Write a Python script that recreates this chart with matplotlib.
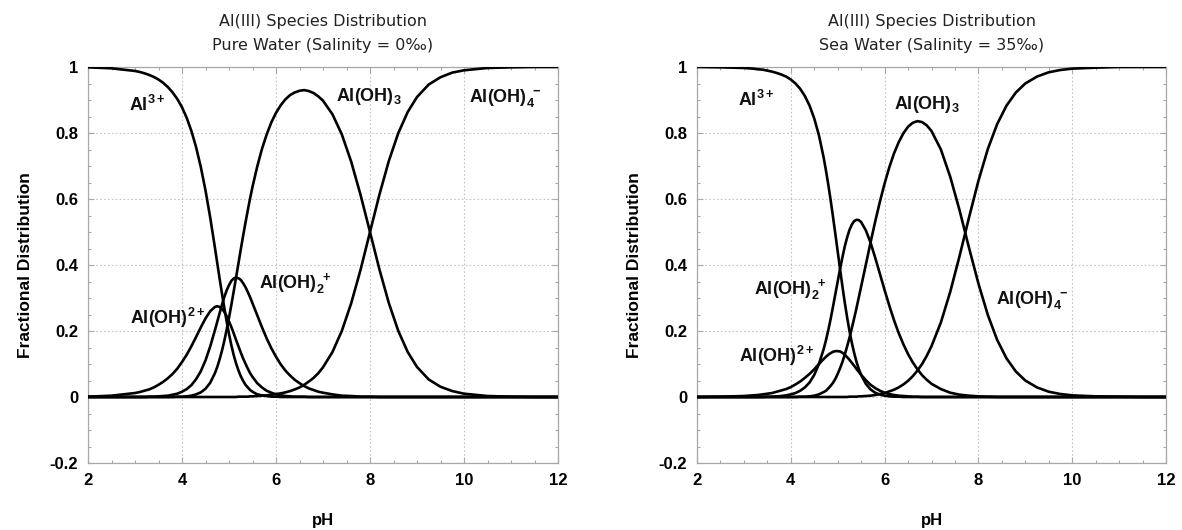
import matplotlib
matplotlib.use("Agg")
import matplotlib.pyplot as plt
from matplotlib.ticker import MultipleLocator, FixedLocator, FixedFormatter

plt.rcParams["font.family"] = ["Liberation Sans", "DejaVu Sans"]
plt.rcParams["mathtext.fontset"] = "custom"
plt.rcParams["mathtext.rm"] = "Liberation Sans"
plt.rcParams["mathtext.bf"] = "Liberation Sans:bold"

# pH sampling points shared by every species curve
ph = [2.0, 2.5, 3.0, 3.1, 3.2, 3.3, 3.4, 3.5, 3.6, 3.7, 3.8, 3.9,
      4.0, 4.1, 4.2, 4.3, 4.4, 4.5, 4.6, 4.7, 4.75, 4.8, 4.85, 4.9, 4.95,
      5.0, 5.05, 5.1, 5.15, 5.2, 5.25, 5.3, 5.35, 5.4, 5.45, 5.5, 5.6, 5.7, 5.8, 5.9,
      6.0, 6.1, 6.2, 6.3, 6.4, 6.5, 6.6, 6.7, 6.8, 6.9, 7.0,
      7.2, 7.4, 7.6, 7.8, 8.0, 8.2, 8.4, 8.6, 8.8, 9.0,
      9.25, 9.5, 9.75, 10.0, 10.5, 11.0, 11.5, 12.0]

# ---- Pure water (salinity 0 permil) fractional distributions ----
al3_pure = [0.999, 0.996, 0.988, 0.985, 0.981, 0.976, 0.970, 0.962, 0.952, 0.939, 0.923, 0.903,
            0.878, 0.846, 0.806, 0.757, 0.697, 0.626, 0.544, 0.453, 0.406, 0.359, 0.314, 0.270, 0.229,
            0.191, 0.157, 0.127, 0.102, 0.081, 0.063, 0.049, 0.037, 0.029, 0.021, 0.016, 0.008, 0.005, 0.003, 0.001,
            0.001, 0.000, 0.000, 0.000, 0.000, 0.000, 0.000, 0.000, 0.000, 0.000, 0.000,
            0.000, 0.000, 0.000, 0.000, 0.000, 0.000, 0.000, 0.000, 0.000, 0.000,
            0.000, 0.000, 0.000, 0.000, 0.000, 0.000, 0.000, 0.000]
aloh_pure = [0.001, 0.004, 0.012, 0.015, 0.019, 0.023, 0.029, 0.037, 0.046, 0.057, 0.070, 0.086,
             0.106, 0.128, 0.154, 0.182, 0.211, 0.238, 0.260, 0.273, 0.275, 0.273, 0.267, 0.258, 0.245,
             0.229, 0.212, 0.193, 0.173, 0.154, 0.135, 0.117, 0.101, 0.086, 0.072, 0.061, 0.042, 0.029, 0.019, 0.013,
             0.008, 0.005, 0.003, 0.002, 0.001, 0.001, 0.001, 0.000, 0.000, 0.000, 0.000,
             0.000, 0.000, 0.000, 0.000, 0.000, 0.000, 0.000, 0.000, 0.000, 0.000,
             0.000, 0.000, 0.000, 0.000, 0.000, 0.000, 0.000, 0.000]
aloh2_pure = [0.000, 0.000, 0.000, 0.000, 0.000, 0.001, 0.001, 0.002, 0.003, 0.004, 0.007, 0.010,
              0.016, 0.024, 0.036, 0.054, 0.078, 0.111, 0.153, 0.202, 0.228, 0.254, 0.279, 0.303, 0.323,
              0.339, 0.352, 0.359, 0.362, 0.360, 0.355, 0.345, 0.333, 0.318, 0.302, 0.284, 0.248, 0.212, 0.178, 0.148,
              0.122, 0.099, 0.080, 0.065, 0.052, 0.042, 0.033, 0.026, 0.021, 0.016, 0.013,
              0.008, 0.004, 0.003, 0.001, 0.001, 0.000, 0.000, 0.000, 0.000, 0.000,
              0.000, 0.000, 0.000, 0.000, 0.000, 0.000, 0.000, 0.000]
aloh3_pure = [0.000, 0.000, 0.000, 0.000, 0.000, 0.000, 0.000, 0.000, 0.000, 0.000, 0.000, 0.001,
              0.001, 0.002, 0.004, 0.008, 0.014, 0.025, 0.043, 0.072, 0.091, 0.114, 0.140, 0.170, 0.204,
              0.240, 0.279, 0.320, 0.362, 0.404, 0.447, 0.488, 0.528, 0.566, 0.603, 0.637, 0.698, 0.751, 0.795, 0.832,
              0.861, 0.884, 0.902, 0.915, 0.923, 0.928, 0.930, 0.927, 0.921, 0.911, 0.898,
              0.857, 0.796, 0.713, 0.612, 0.500, 0.387, 0.285, 0.201, 0.137, 0.091,
              0.053, 0.031, 0.018, 0.010, 0.003, 0.001, 0.000, 0.000]
aloh4_pure = [0.000, 0.000, 0.000, 0.000, 0.000, 0.000, 0.000, 0.000, 0.000, 0.000, 0.000, 0.000,
              0.000, 0.000, 0.000, 0.000, 0.000, 0.000, 0.000, 0.000, 0.000, 0.000, 0.000, 0.000, 0.000,
              0.000, 0.000, 0.000, 0.000, 0.001, 0.001, 0.001, 0.001, 0.001, 0.002, 0.002, 0.003, 0.004, 0.005, 0.007,
              0.009, 0.011, 0.014, 0.018, 0.023, 0.029, 0.037, 0.047, 0.058, 0.072, 0.090,
              0.136, 0.200, 0.284, 0.386, 0.500, 0.613, 0.715, 0.799, 0.863, 0.909,
              0.947, 0.969, 0.983, 0.990, 0.997, 0.999, 1.000, 1.000]

# ---- Sea water (salinity 35 permil) fractional distributions ----
al3_sea = [1.000, 0.999, 0.997, 0.996, 0.995, 0.993, 0.992, 0.989, 0.986, 0.982, 0.977, 0.971,
           0.962, 0.950, 0.934, 0.912, 0.883, 0.844, 0.793, 0.726, 0.686, 0.643, 0.596, 0.546, 0.494,
           0.441, 0.388, 0.336, 0.287, 0.242, 0.201, 0.165, 0.134, 0.107, 0.085, 0.067, 0.040, 0.023, 0.013, 0.007,
           0.004, 0.002, 0.001, 0.001, 0.000, 0.000, 0.000, 0.000, 0.000, 0.000, 0.000,
           0.000, 0.000, 0.000, 0.000, 0.000, 0.000, 0.000, 0.000, 0.000, 0.000,
           0.000, 0.000, 0.000, 0.000, 0.000, 0.000, 0.000, 0.000]
aloh_sea = [0.000, 0.001, 0.003, 0.004, 0.005, 0.006, 0.008, 0.010, 0.012, 0.016, 0.020, 0.024,
            0.030, 0.038, 0.047, 0.058, 0.070, 0.084, 0.100, 0.115, 0.122, 0.128, 0.133, 0.137, 0.139,
            0.139, 0.138, 0.134, 0.128, 0.121, 0.113, 0.104, 0.095, 0.085, 0.076, 0.067, 0.051, 0.037, 0.027, 0.019,
            0.013, 0.009, 0.006, 0.004, 0.003, 0.002, 0.001, 0.001, 0.000, 0.000, 0.000,
            0.000, 0.000, 0.000, 0.000, 0.000, 0.000, 0.000, 0.000, 0.000, 0.000,
            0.000, 0.000, 0.000, 0.000, 0.000, 0.000, 0.000, 0.000]
aloh2_sea = [0.000, 0.000, 0.000, 0.000, 0.000, 0.000, 0.000, 0.001, 0.001, 0.002, 0.003, 0.005,
             0.008, 0.012, 0.019, 0.029, 0.044, 0.067, 0.100, 0.145, 0.172, 0.203, 0.237, 0.274, 0.312,
             0.350, 0.388, 0.423, 0.456, 0.483, 0.506, 0.522, 0.533, 0.537, 0.536, 0.530, 0.505, 0.468, 0.422, 0.373,
             0.324, 0.277, 0.233, 0.194, 0.160, 0.130, 0.105, 0.084, 0.066, 0.052, 0.040,
             0.024, 0.013, 0.007, 0.004, 0.002, 0.001, 0.000, 0.000, 0.000, 0.000,
             0.000, 0.000, 0.000, 0.000, 0.000, 0.000, 0.000, 0.000]
aloh3_sea = [0.000, 0.000, 0.000, 0.000, 0.000, 0.000, 0.000, 0.000, 0.000, 0.000, 0.000, 0.000,
             0.000, 0.000, 0.001, 0.001, 0.002, 0.004, 0.008, 0.015, 0.019, 0.026, 0.034, 0.043, 0.055,
             0.070, 0.087, 0.106, 0.128, 0.153, 0.179, 0.208, 0.238, 0.269, 0.302, 0.335, 0.401, 0.468, 0.532, 0.592,
             0.647, 0.696, 0.738, 0.772, 0.799, 0.819, 0.831, 0.836, 0.833, 0.823, 0.806,
             0.750, 0.667, 0.565, 0.452, 0.344, 0.249, 0.173, 0.117, 0.077, 0.050,
             0.029, 0.016, 0.009, 0.005, 0.002, 0.001, 0.000, 0.000]
aloh4_sea = [0.000, 0.000, 0.000, 0.000, 0.000, 0.000, 0.000, 0.000, 0.000, 0.000, 0.000, 0.000,
             0.000, 0.000, 0.000, 0.000, 0.000, 0.000, 0.000, 0.000, 0.000, 0.000, 0.000, 0.000, 0.000,
             0.000, 0.000, 0.000, 0.000, 0.000, 0.001, 0.001, 0.001, 0.001, 0.002, 0.002, 0.003, 0.004, 0.006, 0.009,
             0.012, 0.017, 0.022, 0.029, 0.038, 0.049, 0.063, 0.080, 0.100, 0.125, 0.154,
             0.226, 0.319, 0.428, 0.544, 0.655, 0.751, 0.827, 0.883, 0.923, 0.950,
             0.971, 0.984, 0.991, 0.995, 0.998, 1.000, 1.000, 1.000]

species_names = [r"$\mathbf{Al^{3+}}$", r"$\mathbf{Al(OH)^{2+}}$",
                 r"$\mathbf{Al(OH)_2^{\ +}}$", r"$\mathbf{Al(OH)_3}$",
                 r"$\mathbf{Al(OH)_4^{\ -}}$"]

x_ticks = [2, 4, 6, 8, 10, 12]
x_ticklabels = ["2", "4", "6", "8", "10", "12"]
y_ticks = [-0.2, 0.0, 0.2, 0.4, 0.6, 0.8, 1.0]
y_ticklabels = ["-0.2", "0", "0.2", "0.4", "0.6", "0.8", "1"]

titles = ["Al(III) Species Distribution\nPure Water (Salinity = 0\u2030)",
          "Al(III) Species Distribution\nSea Water (Salinity = 35\u2030)"]

panels = [
    (titles[0], [al3_pure, aloh_pure, aloh2_pure, aloh3_pure, aloh4_pure],
     [(2.87, 0.885), (2.90, 0.240), (5.63, 0.343), (7.27, 0.910), (10.10, 0.905)]),
    (titles[1], [al3_sea, aloh_sea, aloh2_sea, aloh3_sea, aloh4_sea],
     [(2.88, 0.900), (2.90, 0.125), (3.21, 0.326), (6.21, 0.885), (8.37, 0.295)]),
]

W, H = 1182, 530
fig = plt.figure(figsize=(W / 100, H / 100), dpi=100)
axes = [fig.add_axes([88 / W, 1 - 463 / H, 470 / W, 396 / H]),
        fig.add_axes([697 / W, 1 - 463 / H, 469 / W, 396 / H])]

frame_grey = "#a8a8a8"
for ax, (title, curves, label_pos) in zip(axes, panels):
    for frac in curves:
        ax.plot(ph, frac, color="black", lw=1.9, solid_capstyle="round",
                solid_joinstyle="round", zorder=3)
    for name, (lx, ly) in zip(species_names, label_pos):
        ax.text(lx, ly, name, fontsize=13, ha="left", va="center",
                color="#111111", zorder=4)

    ax.set_xlim(2, 12)
    ax.set_ylim(-0.2, 1.0)
    ax.xaxis.set_major_locator(FixedLocator(x_ticks))
    ax.xaxis.set_major_formatter(FixedFormatter(x_ticklabels))
    ax.yaxis.set_major_locator(FixedLocator(y_ticks))
    ax.yaxis.set_major_formatter(FixedFormatter(y_ticklabels))
    ax.xaxis.set_minor_locator(MultipleLocator(0.5))
    ax.yaxis.set_minor_locator(MultipleLocator(0.05))
    ax.tick_params(which="both", direction="in", top=True, right=True,
                   color=frame_grey, width=0.8)
    ax.tick_params(which="major", length=4, labelsize=12, pad=7)
    ax.tick_params(which="minor", length=2.5)
    for lab in ax.get_xticklabels() + ax.get_yticklabels():
        lab.set_fontweight("bold")
    ax.grid(which="major", color="#c4c4c4", linestyle=(0, (1.5, 2.0)), lw=0.8)
    ax.set_axisbelow(True)
    for sp in ax.spines.values():
        sp.set_color(frame_grey)
        sp.set_linewidth(0.9)

    ax.set_xlabel("pH", fontsize=12, fontweight="bold", labelpad=18)
    ax.set_ylabel("Fractional Distribution", fontsize=12.5, fontweight="bold",
                  labelpad=12)
    ax.set_title(title, fontsize=11.5, family="DejaVu Sans", color="#222222",
                 linespacing=1.75, pad=12)

fig.savefig("out.png", dpi=100, facecolor="white")
